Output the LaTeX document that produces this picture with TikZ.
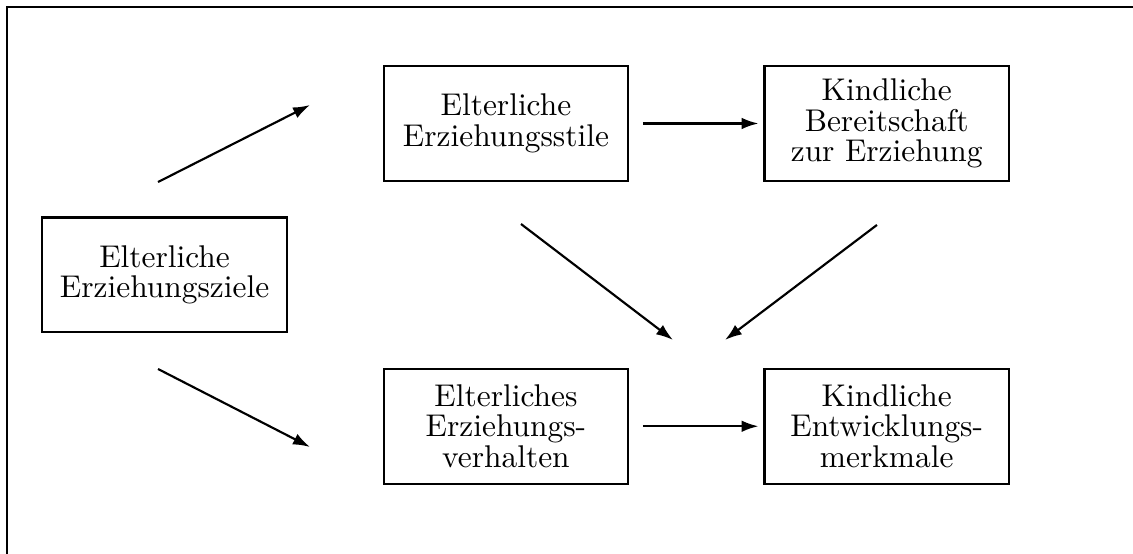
\documentclass[tikz,border=0pt]{standalone}
\usepackage{tikz}
\usetikzlibrary{arrows.meta, positioning, calc}

\begin{document}
\begin{tikzpicture}[
    node distance=2.12cm and 1.53cm,
    box/.style={draw, line width=0.7pt, minimum width=2.79cm, minimum height=1.31cm,
                align=center, font=\fontsize{10.2}{9.9}\selectfont},
    arrow/.style={-{Latex[length=5.5pt, width=3.8pt]}, line width=0.7pt}
  ]
    \useasboundingbox (0,0) rectangle (12.928,-6.321);

    % open frame
    \draw[line width=0.7pt] (12.928,-0.076) -- (0.083,-0.076) -- (0.083,-6.321);

    \node[box] (stile) at (5.773,-1.409) {Elterliche\\Erziehungsstile};
    \node[box, right=of stile] (bereit) {Kindliche\\Bereitschaft\\zur Erziehung};
    \node[box, below=of stile] (verhalten) {Elterliches\\Erziehungs-\\verhalten};
    \node[box, right=of verhalten] (merkmale) {Kindliche\\Entwicklungs-\\merkmale};
    \node[box, anchor=east, xshift=-1.08cm] (ziele) at ($(stile.west)!0.5!(verhalten.west)$)
      {Elterliche\\Erziehungsziele};

    % free arrow ends
    \coordinate (zo) at (1.803,-2.077);
    \coordinate (so) at (3.537,-1.198);
    \coordinate (zu) at (1.803,-4.210);
    \coordinate (vu) at (3.537,-5.100);
    \coordinate (sm) at (5.945,-2.556);
    \coordinate (ml) at (7.679,-3.879);
    \coordinate (bm) at (10.006,-2.567);
    \coordinate (mr) at (8.272,-3.879);

    \draw[arrow] (zo) -- (so);
    \draw[arrow] (zu) -- (vu);
    \draw[arrow, shorten <=4.4pt, shorten >=1.6pt] (stile) -- (bereit);
    \draw[arrow, shorten <=4.4pt, shorten >=1.6pt] (verhalten) -- (merkmale);
    \draw[arrow] (sm) -- (ml);
    \draw[arrow] (bm) -- (mr);
  \end{tikzpicture}
\end{document}
